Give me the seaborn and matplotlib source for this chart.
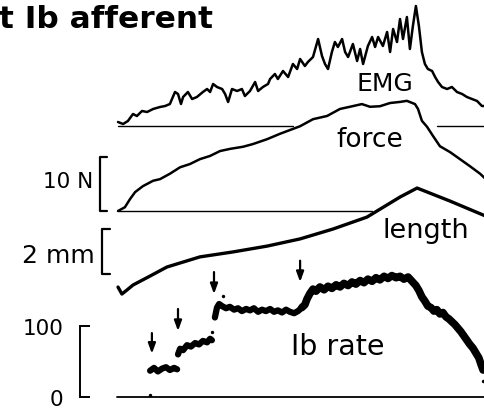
import numpy as np
import pandas as pd
import matplotlib
matplotlib.use('Agg')
import matplotlib.pyplot as plt
import seaborn as sns

# time in s, traces share one time base
emg_t = [0.00, 0.17, 0.33, 0.50, 0.63, 0.80, 0.97, 1.17, 1.40, 1.57, 1.73, 1.80, 1.90, 2.00,
         2.10, 2.17, 2.33, 2.47, 2.63, 2.83, 2.97, 3.07, 3.17, 3.30, 3.47, 3.57, 3.67, 3.80,
         3.97, 4.13, 4.23, 4.40, 4.57, 4.67, 4.83, 5.00, 5.07, 5.23, 5.33, 5.50, 5.67, 5.83,
         5.97, 6.07, 6.23, 6.33, 6.50, 6.67, 6.80, 6.90, 7.00, 7.13, 7.23, 7.33, 7.47, 7.57,
         7.67, 7.83, 7.97, 8.07, 8.17, 8.33, 8.47, 8.57, 8.67, 8.83, 8.97, 9.07, 9.17, 9.30,
         9.40, 9.50, 9.63, 9.73, 9.83, 9.93, 10.03, 10.13, 10.23, 10.33, 10.47, 10.57, 10.67,
         10.80, 10.97, 11.13, 11.30, 11.47, 11.63, 11.80, 11.97, 12.13, 12.30]
emg = [4, 2, 5, 12, 10, 15, 14, 17, 19, 20, 22, 27, 34, 32,
       22, 29, 34, 27, 29, 34, 37, 34, 42, 39, 37, 32, 24, 37,
       35, 37, 30, 35, 44, 35, 39, 42, 47, 52, 47, 55, 49, 62,
       57, 67, 60, 64, 69, 87, 70, 62, 57, 74, 84, 79, 87, 74,
       69, 82, 65, 77, 62, 80, 89, 79, 89, 80, 94, 74, 97, 84,
       107, 87, 109, 77, 100, 120, 100, 74, 62, 57, 55, 49, 44,
       39, 37, 39, 34, 32, 29, 27, 25, 20, 20]
emg_base = [[0.0, 5.83], [10.63, 12.3]]

force_t = [0.00, 0.23, 0.40, 0.57, 0.83, 1.17, 1.40, 1.73, 2.07, 2.40, 2.73, 3.07, 3.40,
           3.73, 4.17, 4.50, 4.97, 5.40, 5.83, 6.07, 6.50, 6.97, 7.40, 7.73, 8.13, 8.40,
           8.73, 9.07, 9.40, 9.63, 9.90, 10.00, 10.13, 10.30, 10.50, 10.73, 11.07, 11.40,
           11.73, 12.07, 12.30]
force = [0.0, 0.7, 2.2, 3.5, 4.6, 5.6, 5.9, 6.9, 8.1, 8.7, 9.6, 10.2, 11.1,
         11.5, 11.9, 12.4, 13.3, 14.3, 15.2, 15.7, 17.0, 17.6, 18.9, 19.3, 19.8, 19.3,
         19.4, 20.0, 20.2, 20.4, 19.8, 18.9, 16.7, 15.6, 13.9, 12.0, 10.9, 9.6,
         8.3, 6.9, 5.7]
force_base = [0.0, 8.47]

length_t = [0.00, 0.13, 0.30, 0.50, 1.07, 1.63, 2.73, 3.83, 4.97, 6.07, 7.17, 8.30,
            9.40, 9.97, 11.07, 12.30]
length = [-0.58, -0.89, -0.71, -0.49, -0.09, 0.31, 0.76, 0.98, 1.24, 1.56, 2.00, 2.53,
          3.42, 3.82, 3.24, 2.55]

# Ib discharge rate (imp/s), stretches between the arrows
rate_t1 = [1.07, 1.20, 1.33, 1.47, 1.60, 1.73, 1.87, 1.97]
rate_v1 = [37, 41, 36, 40, 42, 38, 41, 39]
rate_t2 = [2.00, 2.07, 2.17, 2.30, 2.43, 2.57, 2.70, 2.83, 2.97, 3.07, 3.13]
rate_v2 = [60, 68, 66, 73, 71, 76, 74, 79, 77, 82, 80]
rate_t3 = [3.23, 3.30, 3.37, 3.47, 3.60, 3.73, 3.87, 4.00, 4.13, 4.27, 4.40, 4.53,
           4.67, 4.80, 4.93, 5.07, 5.20, 5.33, 5.47, 5.60, 5.73, 5.87, 6.00, 6.13]
rate_v3 = [112, 126, 131, 128, 125, 127, 123, 125, 121, 124, 122, 125,
           120, 123, 121, 124, 120, 122, 119, 123, 120, 118, 121, 126]
rate_t4 = [6.13, 6.23, 6.30, 6.40, 6.50, 6.60, 6.73, 6.87, 7.00, 7.13,
           7.27, 7.40, 7.53, 7.67, 7.80, 7.93, 8.07, 8.20, 8.33, 8.47,
           8.60, 8.73, 8.87, 9.00, 9.13, 9.27, 9.40, 9.53, 9.67, 9.80,
           9.93, 10.03, 10.13, 10.23, 10.33, 10.43, 10.53, 10.63, 10.73, 10.83,
           10.93, 11.03, 11.13, 11.23, 11.33, 11.43, 11.53, 11.63, 11.73, 11.83,
           11.93, 12.03, 12.10, 12.17]
rate_v4 = [126, 130, 138, 146, 152, 149, 155, 151, 156, 153,
           158, 155, 160, 157, 162, 159, 164, 161, 166, 163,
           168, 165, 170, 167, 171, 168, 170, 166, 169, 163,
           157, 150, 141, 135, 128, 126, 121, 123, 117, 119,
           113, 110, 106, 102, 97, 92, 86, 80, 74, 69,
           62, 55, 46, 38]
stray_t = [1.07, 3.13, 3.50, 12.17]
stray_v = [3, 92, 142, 23]

arrow_t = [1.13, 2.00, 3.20, 6.07]
arrow_tip = [61, 93, 145, 162]
arrow_tail = [90, 124, 176, 192]

sns.set_style('white')
plt.rcParams['font.family'] = ['DejaVu Sans']
plt.rcParams['text.color'] = 'black'
plt.rcParams['ytick.color'] = 'black'
plt.rcParams['ytick.labelcolor'] = 'black'

W, H = 485, 414
px_per_s = 30.0
xlim = (-118 / px_per_s, (W - 118) / px_per_s)

fig = plt.figure(figsize=(4.85, 4.14), dpi=100)


def trace_axes(zero_px, px_per_unit):
    ax = fig.add_axes([0, 0, 1, 1])
    ax.set_xlim(*xlim)
    ax.set_ylim((zero_px - H) / px_per_unit, zero_px / px_per_unit)
    ax.patch.set_visible(False)
    for s in ax.spines.values():
        s.set_visible(False)
    ax.set_xticks([])
    ax.set_yticks([])
    return ax


ax_emg = trace_axes(127, 1.0)
ax_force = trace_axes(212, 5.4)
ax_len = trace_axes(275, 22.5)
ax_rate = trace_axes(398, 0.71)

# EMG
sns.lineplot(x=emg_t, y=emg, ax=ax_emg, color='black', lw=1.8, sort=False, estimator=None)
for a, b in emg_base:
    ax_emg.plot([a, b], [0, 0], color='black', lw=1.0)
ax_emg.text(8.9, 36, 'EMG', ha='center', va='baseline', fontsize=18)

# force
sns.lineplot(x=force_t, y=force, ax=ax_force, color='black', lw=1.8, sort=False, estimator=None)
ax_force.plot(force_base, [0, 0], color='black', lw=1.0)
ax_force.plot([-0.37, -0.6, -0.6, -0.37], [10, 10, 0, 0], color='black', lw=1.6)
ax_force.text(8.4, 12.0, 'force', ha='center', va='baseline', fontsize=19)
ax_force.text(-0.83, 4.4, '10 N', ha='right', va='baseline', fontsize=15.5)

# length
sns.lineplot(x=length_t, y=length, ax=ax_len, color='black', lw=2.4, sort=False, estimator=None)
ax_len.plot([-0.27, -0.53, -0.53, -0.27], [2, 2, 0, 0], color='black', lw=1.6)
ax_len.text(10.27, 1.64, 'length', ha='center', va='baseline', fontsize=19.5)
ax_len.text(-0.77, 0.53, '2 mm', ha='right', va='baseline', fontsize=18)

# Ib rate
for tt, vv, w in [(rate_t1, rate_v1, 4.5), (rate_t2, rate_v2, 4.5),
                  (rate_t3, rate_v3, 4.5), (rate_t4, rate_v4, 5.5)]:
    sns.lineplot(x=tt, y=vv, ax=ax_rate, color='black', lw=w, sort=False, estimator=None)
sns.scatterplot(x=stray_t, y=stray_v, ax=ax_rate, color='black', s=6, linewidth=0)
ax_rate.plot([-0.03, 12.3], [0, 0], color='black', lw=1.3)
for t, tip, tail in zip(arrow_t, arrow_tip, arrow_tail):
    ax_rate.annotate('', xy=(t, tip), xytext=(t, tail),
                     arrowprops=dict(arrowstyle='-|>,head_length=0.6,head_width=0.22',
                                     color='black', lw=1.6, shrinkA=0, shrinkB=0))
ax_rate.text(7.33, 60.6, 'Ib rate', ha='center', va='baseline', fontsize=20.5)

ax_rate.spines['left'].set_visible(True)
ax_rate.spines['left'].set_position(('data', -1.27))
ax_rate.spines['left'].set_bounds(0, 100)
ax_rate.spines['left'].set_linewidth(1.4)
ax_rate.spines['left'].set_color('black')
ax_rate.set_yticks([0, 100])
ax_rate.set_yticklabels(['0', '100'], fontsize=15.5)
ax_rate.tick_params(axis='y', left=True, labelleft=True, direction='in', length=7.5,
                    width=1.4, pad=12, colors='black')

fig.text(-0.003, 1 - 28 / H, 't Ib afferent', ha='left', va='baseline',
         fontsize=22.5, fontweight='bold', color='black')

fig.savefig('out.png', dpi=100, facecolor='white')
